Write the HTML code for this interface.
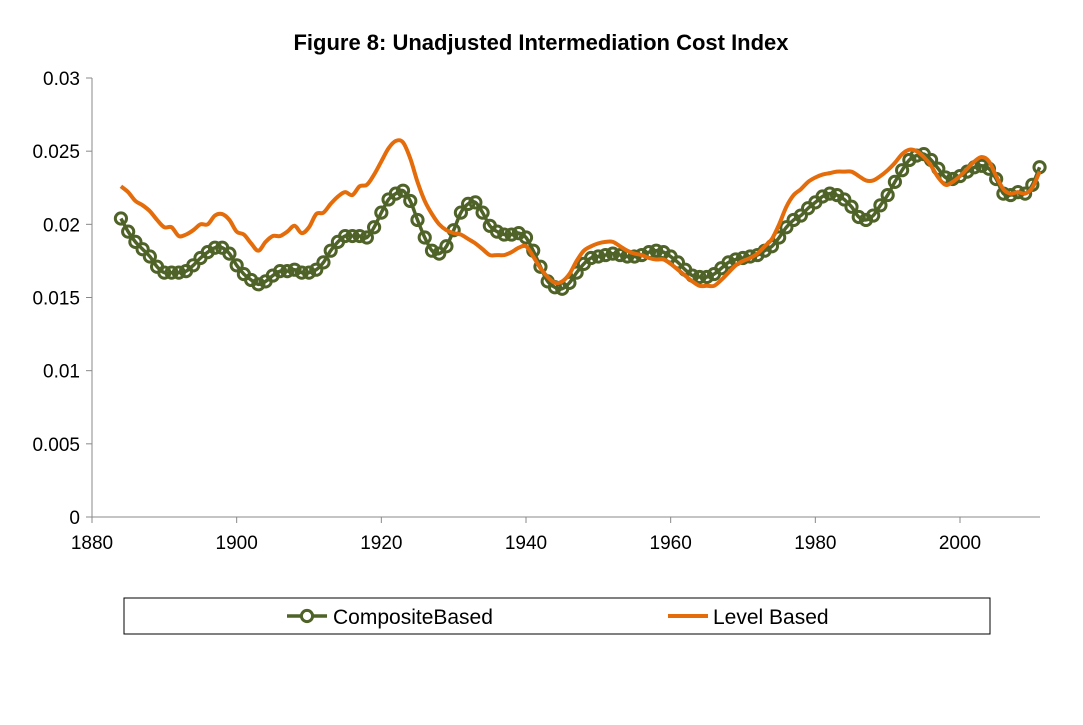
<!DOCTYPE html>
<html><head><meta charset="utf-8"><style>
body{margin:0;background:#fff;width:1083px;height:720px;overflow:hidden}
svg text{font-family:"Liberation Sans",sans-serif;fill:#000}
</style></head><body>
<svg id="chart" width="1083" height="720">
<text x="541" y="50" text-anchor="middle" font-size="22" font-weight="bold">Figure 8: Unadjusted Intermediation Cost Index</text>
<g id="axes"></g><g id="series"></g>
<g>
<rect x="124" y="598" width="866" height="36" fill="#fff" stroke="#000" stroke-width="1"/>
<g>
<line x1="287" y1="616" x2="327" y2="616" stroke="#4f6228" stroke-width="3.5"/>
<circle cx="307" cy="616" r="5.6" fill="#fff" stroke="#4f6228" stroke-width="3"/>
<text x="333" y="624" font-size="21">CompositeBased</text></g>
<g>
<line x1="668" y1="616" x2="708" y2="616" stroke="#e46c0a" stroke-width="4"/>
<text x="713" y="624" font-size="21">Level Based</text></g>
</g>
</svg>
<script>
const startYear=1884;
const composite=[0.0204,0.0195,0.0188,0.0183,0.0178,0.0171,0.0167,0.0167,0.0167,0.0168,0.0172,0.0177,0.0181,0.0184,0.0184,0.0180,0.0172,0.0166,0.0162,0.0159,0.0161,0.0165,0.0168,0.0168,0.0169,0.0167,0.0167,0.0169,0.0174,0.0182,0.0188,0.0192,0.0192,0.0192,0.0191,0.0198,0.0208,0.0217,0.0221,0.0223,0.0216,0.0203,0.0191,0.0182,0.0180,0.0185,0.0196,0.0208,0.0214,0.0215,0.0208,0.0199,0.0195,0.0193,0.0193,0.0194,0.0191,0.0182,0.0171,0.0161,0.0157,0.0156,0.0160,0.0167,0.0173,0.0177,0.0178,0.0179,0.0180,0.0179,0.0178,0.0178,0.0179,0.0181,0.0182,0.0181,0.0178,0.0174,0.0169,0.0165,0.0164,0.0164,0.0166,0.0170,0.0174,0.0176,0.0177,0.0178,0.0179,0.0182,0.0185,0.0191,0.0198,0.0203,0.0206,0.0211,0.0215,0.0219,0.0221,0.0220,0.0217,0.0212,0.0205,0.0203,0.0206,0.0213,0.0220,0.0229,0.0237,0.0244,0.0247,0.0248,0.0244,0.0238,0.0232,0.0231,0.0233,0.0236,0.0239,0.0240,0.0238,0.0231,0.0221,0.0220,0.0222,0.0221,0.0227,0.0239];
const levelBased=[0.0226,0.0222,0.0216,0.0213,0.0209,0.0203,0.0198,0.0198,0.0192,0.0193,0.0196,0.0200,0.0200,0.0206,0.0207,0.0203,0.0195,0.0193,0.0187,0.0182,0.0188,0.0192,0.0192,0.0195,0.0199,0.0194,0.0198,0.0207,0.0208,0.0214,0.0219,0.0222,0.0220,0.0226,0.0227,0.0234,0.0243,0.0252,0.0257,0.0256,0.0245,0.0229,0.0216,0.0207,0.0200,0.0196,0.0194,0.0193,0.0190,0.0187,0.0183,0.0179,0.0179,0.0179,0.0181,0.0184,0.0185,0.0178,0.0170,0.0164,0.0160,0.0161,0.0166,0.0175,0.0182,0.0185,0.0187,0.0188,0.0188,0.0185,0.0182,0.0180,0.0179,0.0177,0.0176,0.0176,0.0173,0.0169,0.0165,0.0161,0.0158,0.0158,0.0158,0.0162,0.0167,0.0172,0.0175,0.0177,0.0180,0.0185,0.0190,0.0200,0.0212,0.0220,0.0224,0.0229,0.0232,0.0234,0.0235,0.0236,0.0236,0.0236,0.0233,0.0230,0.0230,0.0233,0.0237,0.0242,0.0248,0.0251,0.0250,0.0246,0.0240,0.0232,0.0227,0.0229,0.0233,0.0238,0.0243,0.0246,0.0243,0.0233,0.0224,0.0221,0.0222,0.0221,0.0225,0.0236];
const yTicks=["0","0.005","0.01","0.015","0.02","0.025","0.03"];
const xTicks=["1880","1900","1920","1940","1960","1980","2000"];
const NS="http://www.w3.org/2000/svg";
const xs=y=>92+(y-1880)*(868/120);
const ys=v=>517-v*(439/0.03);
function mk(t,a,p){const e=document.createElementNS(NS,t);for(const k in a)e.setAttribute(k,a[k]);p.appendChild(e);return e;}
const ax=document.getElementById('axes');
const yl=mk('line',{x1:92,y1:78,x2:92,y2:517,stroke:'#888','stroke-width':1},ax);


const xl=mk('line',{x1:92,y1:517,x2:1040,y2:517,stroke:'#888','stroke-width':1},ax);


yTicks.forEach(t=>{const y=ys(+t);mk('line',{x1:86,y1:y,x2:92,y2:y,stroke:'#888'},ax);
const tx=mk('text',{x:80,y:y+7,'text-anchor':'end','font-size':19},ax);tx.textContent=t;

});
xTicks.forEach(t=>{const x=xs(+t);mk('line',{x1:x,y1:517,x2:x,y2:523,stroke:'#888'},ax);
const tx=mk('text',{x:x,y:549,'text-anchor':'middle','font-size':19},ax);tx.textContent=t;

});
function smooth(pts){let d=`M${pts[0][0]},${pts[0][1]}`;for(let i=0;i<pts.length-1;i++){const p0=pts[i-1]||pts[i],p1=pts[i],p2=pts[i+1],p3=pts[i+2]||p2;
d+=` C${p1[0]+(p2[0]-p0[0])/6},${p1[1]+(p2[1]-p0[1])/6} ${p2[0]-(p3[0]-p1[0])/6},${p2[1]-(p3[1]-p1[1])/6} ${p2[0]},${p2[1]}`;}return d;}
const sg=document.getElementById('series');
const cp=composite.map((v,i)=>[xs(startYear+i),ys(v)]);
const lp=levelBased.map((v,i)=>[xs(startYear+i),ys(v)]);
const g1=mk('g',{},sg);


mk('path',{d:smooth(cp),fill:'none',stroke:'#4f6228','stroke-width':3.5},g1);
cp.forEach(p=>{const c=mk('circle',{cx:p[0],cy:p[1],r:5.6,fill:'none',stroke:'#4f6228','stroke-width':3},g1);

});
const l=mk('path',{d:smooth(lp),fill:'none',stroke:'#e46c0a','stroke-width':4},sg);


</script>
</body></html>
